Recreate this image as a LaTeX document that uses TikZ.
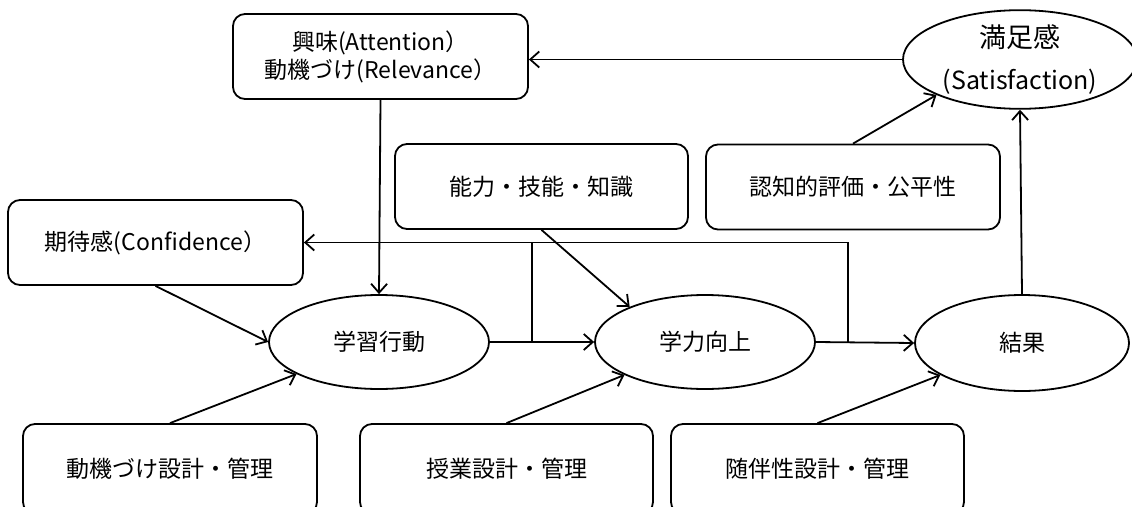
\documentclass[tikz,border=0pt]{standalone}
\usepackage{fontspec}
\setmainfont{Noto Sans CJK JP}
\usetikzlibrary{shapes.geometric,arrows.meta}
\tikzset{
  box/.style={draw, line width=1.8pt, rounded corners=12pt, minimum width=#1, minimum height=85pt, inner sep=0pt, align=center, font=\fontsize{23}{28}\selectfont},
  box/.default=294pt,
  oval/.style={draw, line width=1.8pt, ellipse, minimum width=220pt, minimum height=94pt, inner sep=0pt, align=center, font=\fontsize{23}{28}\selectfont},
  conn/.style={line width=1.8pt, -{Straight Barb[length=9pt,width=16pt,line width=1.8pt]}},
  plain/.style={line width=1.8pt}
}
\begin{document}
\begin{tikzpicture}[x=1pt,y=-1pt]
\useasboundingbox (0,0) rectangle (1132,506);
% nodes
\node[box=295pt] (att) at (380.5,56.5) {興味(Attention）\\動機づけ(Relevance）};
\node[oval, minimum width=234pt, minimum height=96pt] (sat) at (1020,59.5) {{\fontsize{27}{30}\selectfont 満足感}\\[14pt]{\fontsize{25}{28}\selectfont (Satisfaction)}};
\node[box=295pt] (conf) at (155.5,242.5) {期待感(Confidence）};
\node[box=293pt] (abil) at (541.5,186.5) {能力・技能・知識};
\node[box=294pt] (cog) at (853,187) {認知的評価・公平性};
\node[oval] (lb) at (379,342) {学習行動};
\node[oval] (ach) at (705,342) {学力向上};
\node[oval, minimum width=214pt, minimum height=96pt] (res) at (1022,343) {結果};
\node[box=294pt, minimum height=90pt] (d1) at (170,469) {動機づけ設計・管理};
\node[box=293pt, minimum height=90pt] (d2) at (506.5,469) {授業設計・管理};
\node[box=293pt, minimum height=90pt] (d3) at (817.5,469) {随伴性設計・管理};
% junction coordinates
\coordinate (j1) at (532,342);
\coordinate (j2) at (848,342);
% connectors
\draw[conn] (sat.west) -- (sat.west -| att.east);
\draw[conn] (att.south) -- (lb.north);
\draw[conn] (conf.south) -- (lb.west);
\draw[conn] (d1.north) -- (lb);
\draw[conn] (d2.north) -- (ach);
\draw[conn] (d3.north) -- (res);
\draw[conn] (abil.south) -- (ach.155);
\draw[conn] (cog.north) -- (sat.203);
\draw[conn] (res.north) -- (sat.south);
\draw[conn] (lb.east) -- (ach.west);
\draw[conn] (ach.east) -- (res.west);
\draw[conn] (j2) |- (conf.east);
\draw[plain] (j1) -- (j1 |- conf.east);
\end{tikzpicture}
\end{document}
